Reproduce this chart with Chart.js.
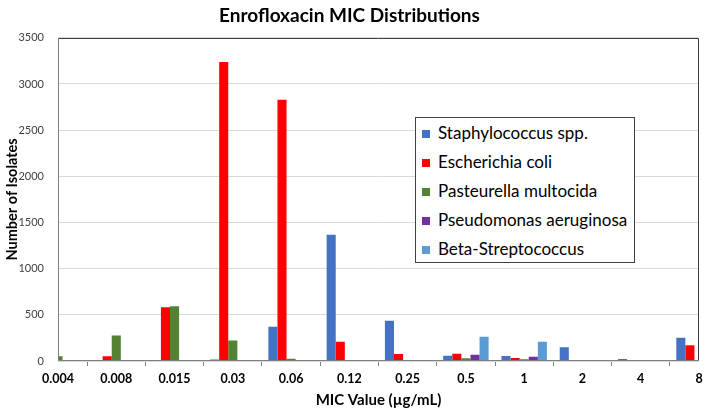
<!DOCTYPE html>
<html>
<head>
<meta charset="utf-8">
<script src="https://cdn.jsdelivr.net/npm/chart.js@4"></script>
<style>
  body { margin: 0; background: #fff; }
  #wrap { position: relative; width: 709px; height: 414px; }
  #legend {
    position: absolute; left: 415px; top: 117px; width: 220px; height: 146px;
    border: 1px solid #404040; background: #fff; box-sizing: border-box;
    font-family: Lato, sans-serif; font-size: 17px; color: #000;
  }
  #legend .row { height: 29px; line-height: 29px; white-space: nowrap; }
  #legend .box { display: inline-block; width: 8px; height: 8px; margin: 0 8px 0 6px; vertical-align: 1px; }
</style>
</head>
<body>
<div id="wrap">
  <canvas id="micChart" width="709" height="414"></canvas>
  <div id="legend"></div>
</div>
<script>
// MIC categories (µg/mL)
var categories = ['0.004', '0.008', '0.015', '0.03', '0.06', '0.12', '0.25', '0.5', '1', '2', '4', '8'];

// number of isolates per organism
var staph       = [0, 0, 0, 15, 372, 1368, 437, 57, 54, 148, 22, 252];
var ecoli       = [0, 52, 583, 3238, 2828, 209, 75, 79, 32, 6, 8, 170];
var pasteurella = [52, 275, 594, 222, 25, 6, 5, 29, 18, 4, 2, 2];
var pseudomonas = [0, 0, 0, 8, 8, 8, 10, 68, 47, 4, 11, 0];
var betaStrep   = [0, 0, 0, 2, 2, 3, 8, 263, 209, 5, 0, 0];

var seriesNames = ['Staphylococcus spp.', 'Escherichia coli', 'Pasteurella multocida', 'Pseudomonas aeruginosa', 'Beta-Streptococcus'];
var seriesColors = ['#4472C4', '#FF0000', '#548235', '#7030A0', '#5B9BD5'];
var seriesData = [staph, ecoli, pasteurella, pseudomonas, betaStrep];

var datasets = seriesData.map(function(d, i) {
  return {
    label: seriesNames[i],
    data: d,
    backgroundColor: seriesColors[i],
    borderWidth: 0,
    categoryPercentage: 0.78,
    barPercentage: 1.0
  };
});

// plot area frame
var framePlugin = {
  id: 'frame',
  afterDatasetsDraw: function(chart) {
    var a = chart.chartArea, c = chart.ctx;
    var l = Math.round(a.left) + 0.5, r = Math.round(a.right) - 0.5;
    var t = Math.round(a.top) + 0.5, b = Math.round(a.bottom) - 0.5;
    c.save();
    c.lineWidth = 1;
    c.strokeStyle = '#404040';
    c.beginPath();
    c.moveTo(l, t); c.lineTo(r, t); c.lineTo(r, b);
    c.stroke();
    c.strokeStyle = '#7f7f7f';
    c.beginPath();
    c.moveTo(l, t); c.lineTo(l, b); c.lineTo(r, b);
    c.stroke();
    c.restore();
  }
};

var ctx = document.getElementById('micChart');
var micChart = new Chart(ctx, {
  type: 'bar',
  data: { labels: categories, datasets: datasets },
  plugins: [framePlugin],
  options: {
    responsive: false,
    animation: false,
    layout: { padding: { left: 0, right: 10, top: 0, bottom: 0 } },
    plugins: {
      legend: { display: false },
      tooltip: { enabled: false },
      title: {
        display: true,
        text: 'Enrofloxacin MIC Distributions',
        color: '#000',
        font: { family: 'Lato', size: 19, weight: 'bold' },
        padding: { top: 4, bottom: 11 }
      }
    },
    scales: {
      x: {
        offset: false,
        grid: { drawOnChartArea: false, tickLength: 5, color: '#7f7f7f' },
        border: { display: false },
        ticks: { color: '#000', padding: 5, maxRotation: 0, autoSkip: false,
                 font: { family: 'Lato', size: 12.5, weight: 'bold' } },
        title: { display: true, text: 'MIC Value (µg/mL)', color: '#000',
                 font: { family: 'Lato', size: 15, weight: 'bold' },
                 padding: { top: 0, bottom: 5 } },
        afterFit: function(s) { s.height = 53; }
      },
      y: {
        min: 0, max: 3500,
        grid: { color: '#d9d9d9', drawTicks: false },
        border: { display: false },
        ticks: { stepSize: 500, color: '#404040', padding: 14,
                 font: { family: 'Lato', size: 11 },
                 callback: function(v) { return String(v); } },
        title: { display: true, text: 'Number of Isolates', color: '#000',
                 font: { family: 'Lato', size: 14.5, weight: 'bold' },
                 padding: { top: 4, bottom: 0 } },
        afterFit: function(s) { s.width = 58; }
      }
    }
  }
});

// legend box inside the plot
var legendEl = document.getElementById('legend');
micChart.data.datasets.forEach(function(ds) {
  var row = document.createElement('div');
  row.className = 'row';
  var box = document.createElement('span');
  box.className = 'box';
  box.style.background = ds.backgroundColor;
  row.appendChild(box);
  row.appendChild(document.createTextNode(ds.label));
  legendEl.appendChild(row);
});
</script>
</body>
</html>
